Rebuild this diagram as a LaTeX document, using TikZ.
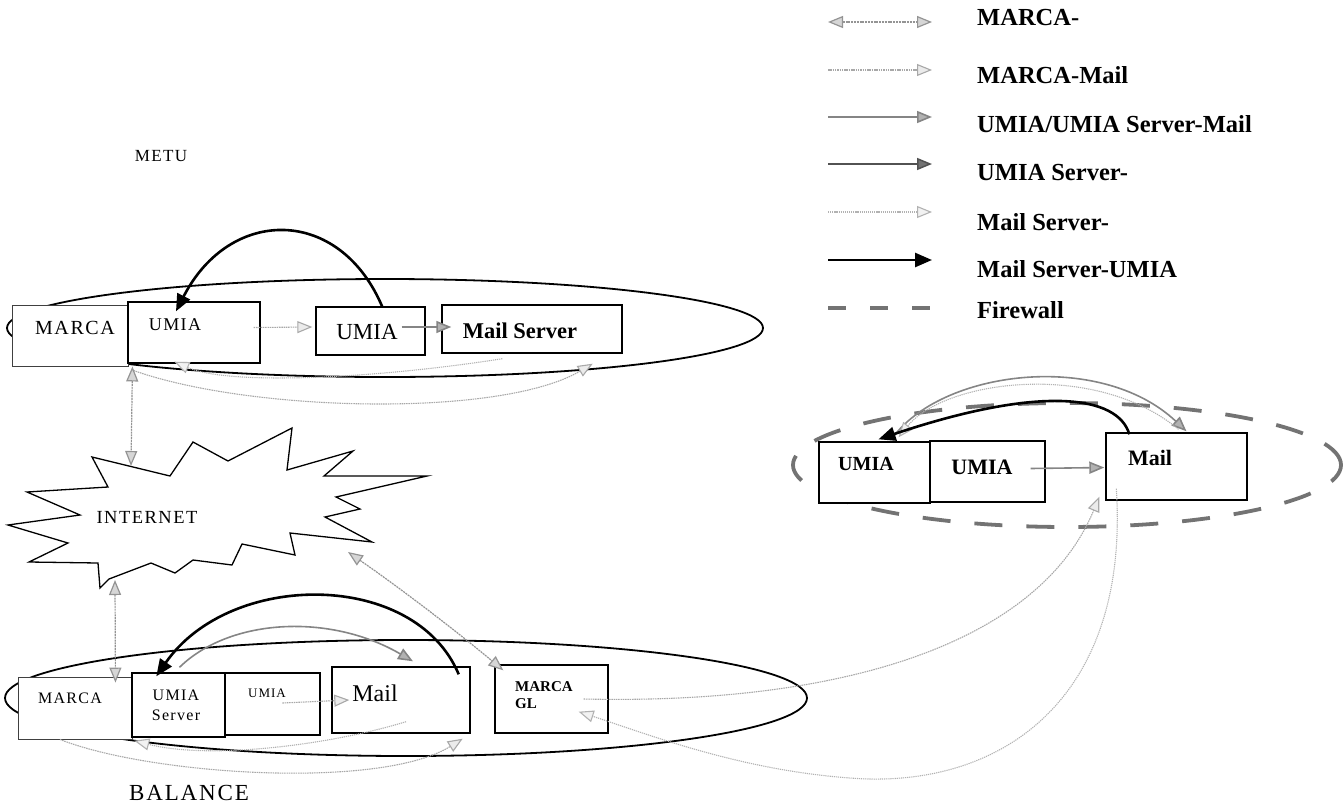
\documentclass[tikz,border=0pt]{standalone}
\usepackage{fontspec}
\setmainfont{Liberation Serif}
\newfontfamily\wideserif[LetterSpace=8]{Liberation Serif}
\usetikzlibrary{arrows.meta,shapes.geometric,calc}

\tikzset{
  box/.style={draw, line width=1.4pt, fill=white, inner sep=0pt},
  thinbox/.style={draw=black!75, line width=0.9pt, fill=white, inner sep=0pt},
  zone/.style={draw, ellipse, line width=1.8pt, inner sep=0pt},
  fwline/.style={draw=black!55, line width=3.8pt},
  lbl/.style={inner sep=0pt},
  legendtext/.style={anchor=base west, inner sep=0pt, font=\fontsize{24.5}{28}\selectfont\bfseries},
  cmarca/.style={draw=black!42, line width=1.2pt, dash pattern=on 2pt off 0.8pt,
    {Triangle[length=15pt,width=12pt,fill=black!16]}-{Triangle[length=15pt,width=12pt,fill=black!16]}},
  cmarcamail/.style={draw=black!34, line width=1.1pt, dash pattern=on 1.5pt off 0.8pt,
    -{Triangle[length=15pt,width=12pt,fill=black!8]}},
  cumiamail/.style={draw=black!48, line width=1.6pt,
    -{Triangle[length=15pt,width=12pt,fill=black!30]}},
  cumiasrv/.style={draw=black!68, line width=1.5pt,
    -{Triangle[length=15pt,width=12pt,fill=black!55]}},
  cmailsrv/.style={draw=black!30, line width=1.1pt, dash pattern=on 1.2pt off 0.9pt,
    -{Triangle[length=15pt,width=12pt,fill=black!5]}},
  cmailumia/.style={draw=black, line width=2.6pt,
    -{Triangle[length=17pt,width=14pt]}}
}

\begin{document}
\begin{tikzpicture}[x=1pt,y=-1pt]
\useasboundingbox (0,0) rectangle (1343,811);

% ---------- METU network ----------
\node[zone, minimum width=756pt, minimum height=98pt] (metu) at (385,328) {};
\node[lbl, font=\wideserif\fontsize{17}{20}\selectfont] (metuT) at (161,156) {METU};

\node[thinbox, minimum width=116pt, minimum height=61pt] (mMarca) at (70,335.5) {};
\node[box, minimum width=132pt, minimum height=61pt] (mUmiaA) at (194,332.5) {};
\node[box, minimum width=109pt, minimum height=48pt] (mUmiaB) at (370.5,331) {};
\node[box, minimum width=180pt, minimum height=48pt] (mMail) at (532,329) {};

\node[lbl, font=\wideserif\fontsize{20}{24}\selectfont] (mMarcaT) at (75,328) {MARCA};
\node[lbl, font=\wideserif\fontsize{18}{22}\selectfont] (mUmiaAT) at (175,325) {UMIA};
\node[lbl, font=\fontsize{23}{27}\selectfont] (mUmiaBT) at (367,332) {UMIA};
\node[lbl, font=\fontsize{22.5}{27}\selectfont\bfseries] (mMailT) at (520,331) {Mail Server};

% ---------- INTERNET ----------
\draw[line width=1.3pt, fill=white]
  (8,525) -- (80,515) -- (27,492) -- (108,487) -- (92,457) -- (170,476)
  -- (193,442) -- (228,461) -- (292,428) -- (287,470) -- (353,451)
  -- (324,476) -- (427,476) -- (336,497) -- (360,509) -- (325,517)
  -- (372,542) -- (290,533) -- (295,555) -- (242,544) -- (232,565)
  -- (193,560) -- (175,573) -- (151,563) -- (109,579) -- (100,588)
  -- (98,563) -- (29,562) -- (68,543) -- cycle;
\node[lbl, font=\wideserif\fontsize{18.5}{22}\selectfont] (inetT) at (147,517) {INTERNET};
\coordinate (inetTop) at (131,466);
\coordinate (inetBot) at (115,580);
\coordinate (inetRight) at (348,552);

% ---------- BALANCE network ----------
\node[zone, minimum width=802pt, minimum height=116pt] (bal) at (406,698) {};
\node[lbl, font=\wideserif\fontsize{23}{27}\selectfont] (balT) at (189,793) {BALANCE};

\node[thinbox, minimum width=114pt, minimum height=62pt] (bMarca) at (75,708) {};
\node[box, minimum width=93pt, minimum height=64pt] (bUmiaS) at (178.5,705) {};
\node[box, minimum width=95pt, minimum height=62pt] (bUmia) at (272.5,704) {};
\node[box, minimum width=138pt, minimum height=66pt] (bMail) at (401,700) {};
\node[box, minimum width=113pt, minimum height=68pt] (bGl) at (551.5,699) {};

\node[lbl, font=\wideserif\fontsize{16}{19}\selectfont] (bMarcaT) at (70,698) {MARCA};
\node[lbl, align=center, font=\wideserif\fontsize{16}{20}\selectfont] (bUmiaST) at (176,705) {UMIA\\Server};
\node[lbl, font=\wideserif\fontsize{13}{16}\selectfont] (bUmiaT) at (267,693) {UMIA};
\node[lbl, font=\fontsize{24}{28}\selectfont] (bMailT) at (375,693) {Mail};
\node[lbl, anchor=west, align=left, font=\fontsize{15}{17}\selectfont\bfseries] (bGlT) at (515,695) {MARCA\\GL};

% ---------- firewalled network ----------
\node[ellipse, fwline, dash pattern=on 28pt off 24pt, inner sep=0pt,
      minimum width=548pt, minimum height=124pt] (fw) at (1067,465) {};
\node[box, minimum width=111pt, minimum height=61pt] (fUmiaA) at (874.5,472.5) {};
\node[box, minimum width=115pt, minimum height=61pt] (fUmiaB) at (987.5,471.5) {};
\node[box, minimum width=141pt, minimum height=67pt] (fMail) at (1176.5,466.5) {};
\node[lbl, font=\fontsize{20}{24}\selectfont\bfseries] (fUmiaAT) at (866,464) {UMIA};
\node[lbl, font=\fontsize{22}{26}\selectfont\bfseries] (fUmiaBT) at (982,467) {UMIA};
\node[lbl, font=\fontsize{22}{26}\selectfont\bfseries] (fMailT) at (1150,458) {Mail};

% ---------- connectors: METU ----------
\draw[cmarcamail] ($(mUmiaA.east)+(-7,-5)$) -- ($(mUmiaB.west)+(-3,-4)$);
\draw[cumiamail] ($(mUmiaB.east)+(-24,-4)$) -- ($(mMail.west)+(10,-2)$);
\draw[cmailsrv] ($(mMail.south west)+(61,5)$) .. controls (380,378) and (230,386) .. ($(mUmiaA.south west)+(47,-2)$);
\draw[cmarcamail] ($(mMarca.south east)+(5,4)$) .. controls (250,412) and (500,418) .. ($(mMail.south east)+(-30,10)$);
\draw[cmarca] ($(mMarca.south east)+(4,0)$) -- (inetTop);
\draw[cmailumia] ($(mUmiaB.north)+(12,1)$) .. controls (340,206) and (230,206) .. ($(mUmiaA.north)+(-18,10)$);

% ---------- connectors: BALANCE ----------
\draw[cmarca] (inetBot) -- ($(bMarca.north east)+(-17,6)$);
\draw[cmarca] (inetRight) .. controls (400,588) and (455,630) .. ($(bGl.north west)+(9,6)$);
\draw[cmarcamail] ($(bUmia.west)+(58,-1)$) -- ($(bMail.west)+(18,0)$);
\draw[cmailsrv] ($(bMail.south)+(5,-12)$) .. controls (330,745) and (210,760) .. ($(bUmiaS.south west)+(3,3)$);
\draw[cmarcamail] ($(bMarca.south)+(-15,0)$) .. controls (150,775) and (380,790) .. ($(bMail.south east)+(-8,5)$);
\draw[cumiamail] ($(bUmiaS.north)+(1,-5)$) .. controls (230,618) and (330,613) .. ($(bMail.north)+(12,-5)$);
\draw[cmailumia] ($(bMail.north east)+(-12,8)$) .. controls (415,570) and (230,570) .. ($(bUmiaS.north west)+(25,4)$);

% ---------- connectors: firewalled network ----------
\draw[cumiamail] ($(fUmiaB.east)+(-15,-3)$) -- ($(fMail.west)+(-1,1)$);
\draw[cumiamail] ($(fUmiaA.north)+(17,-2)$) .. controls (940,370) and (1100,350) .. ($(fMail.north)+(10,-1)$);
\draw[cmailsrv] ($(fMail.north)+(2,-3)$) .. controls (1095,360) and (945,380) .. ($(fUmiaA.north)+(24,-4)$);
\draw[cmailumia] ($(fMail.north west)+(24,2)$) .. controls (1118,395) and (1040,385) .. ($(fUmiaA.north)+(4,-2)$);
\draw[cmarcamail] ($(bGl.east)+(-25,0)$) .. controls (850,705) and (1040,640) .. ($(fMail.south west)+(-6,-4)$);
\draw[cmailsrv] ($(fMail.south west)+(11,-12)$) .. controls (1130,700) and (1000,790) .. (850,778)
  .. controls (740,770) and (650,735) .. ($(bGl.south east)+(-30,-22)$);

% ---------- legend ----------
\foreach \i/\y in {1/22,2/70,3/117,4/164,5/212,6/260,7/308}{
  \coordinate (lg\i a) at (828,\y);
  \coordinate (lg\i b) at (932,\y);
}
\draw[cmarca] (lg1a) -- (lg1b);
\draw[cmarcamail] (lg2a) -- (lg2b);
\draw[cumiamail] (lg3a) -- (lg3b);
\draw[cumiasrv] (lg4a) -- (lg4b);
\draw[cmailsrv] (lg5a) -- (lg5b);
\draw[cmailumia] (lg6a) -- (lg6b);
\draw[fwline, dash pattern=on 18pt off 24pt] (lg7a) -- (lg7b);

\node[legendtext] (lt1) at (977,25) {MARCA-};
\node[legendtext] (lt2) at (977,83) {MARCA-Mail};
\node[legendtext] (lt3) at (977,132) {UMIA/UMIA Server-Mail};
\node[legendtext] (lt4) at (977,180) {UMIA Server-};
\node[legendtext] (lt5) at (977,230) {Mail Server-};
\node[legendtext] (lt6) at (977,277) {Mail Server-UMIA};
\node[legendtext] (lt7) at (977,318) {Firewall};
\end{tikzpicture}
\end{document}
